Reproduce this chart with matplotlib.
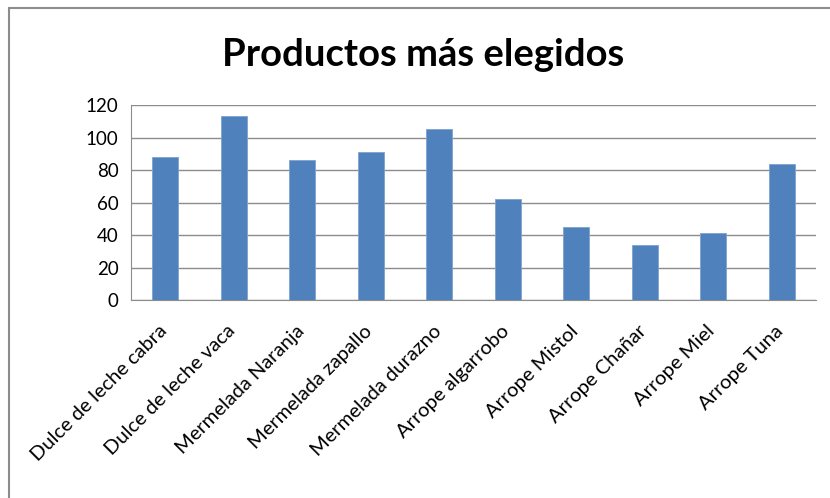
import matplotlib.pyplot as plt
import matplotlib.transforms as mtransforms
from matplotlib.patches import Rectangle

productos = ['Dulce de leche cabra', 'Dulce de leche vaca', 'Mermelada Naranja',
             'Mermelada zapallo', 'Mermelada durazno', 'Arrope algarrobo',
             'Arrope Mistol', 'Arrope Chañar', 'Arrope Miel', 'Arrope Tuna']
cantidad = [88, 113, 86, 91, 105, 62, 45, 34, 41, 84]
y_ticks = [0, 20, 40, 60, 80, 100, 120]

plt.rcParams['font.family'] = ['Lato', 'DejaVu Sans']

fig = plt.figure(figsize=(8.3, 4.98), dpi=100)

# chart frame (gray border like the office chart)
fig.patches.append(Rectangle((9 / 830, -0.1), 1.0, 1.1 - 8 / 498, transform=fig.transFigure,
                             fill=False, edgecolor='#8c8c8c', linewidth=1.5))

ax = fig.add_axes([131 / 830, 1 - 300 / 498, (816 - 131) / 830, (300 - 105) / 498])

x = range(len(productos))
ax.bar(x, cantidad, width=0.38, color='#4F81BD', edgecolor='#7ea3d1', linewidth=0.6, zorder=3)

ax.set_xlim(-0.5, len(productos) - 0.5)
ax.set_ylim(0, 120)
ax.set_yticks(y_ticks)
ax.yaxis.grid(True, color='#8c8c8c', linewidth=1)
ax.set_axisbelow(True)

for s in ['top', 'right']:
    ax.spines[s].set_visible(False)
ax.spines['left'].set_color('#8c8c8c')
ax.spines['bottom'].set_color('#8c8c8c')
ax.tick_params(axis='y', length=0, labelsize=13.5, colors='black', pad=9)
ax.tick_params(axis='x', length=0, labelsize=14.5, colors='black', pad=16)

ax.set_xticks(list(x))
ax.set_xticklabels(productos, rotation=45, ha='right', va='top', rotation_mode='anchor')
# nudge the rotated labels a little to the left
shift = mtransforms.ScaledTranslation(-7 / 100, 0, fig.dpi_scale_trans)
for lbl in ax.get_xticklabels():
    lbl.set_transform(lbl.get_transform() + shift)

fig.text(0.510, 1 - 55 / 498, 'Productos más elegidos', ha='center', va='center',
         fontsize=27.5, fontweight='bold')

fig.savefig('out.png', dpi=100)
